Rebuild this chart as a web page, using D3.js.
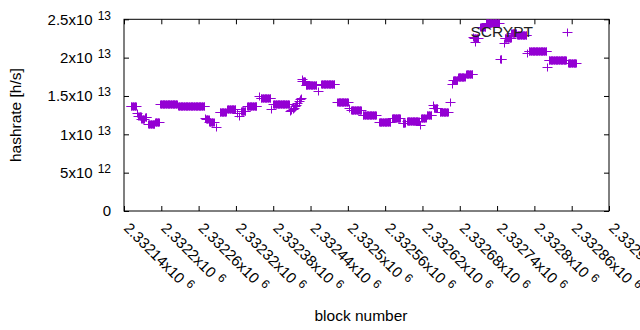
<!DOCTYPE html>
<html>
<head>
<meta charset="utf-8">
<script src="https://cdn.jsdelivr.net/npm/d3@7"></script>
<style>
  body { margin: 0; background: #fff; }
  svg { display: block; font-family: "Liberation Sans", Arial, sans-serif; }
</style>
</head>
<body>
<div id="chart"></div>
<script>
// runs of blocks sharing the same hashrate estimate (rate in 1e12 h/s)
const runStart = [2332151, 2332161, 2332163, 2332168, 2332174, 2332179, 2332190, 2332198, 2332227,
  2332270, 2332272, 2332277, 2332288, 2332294, 2332306, 2332322, 2332325, 2332328, 2332338,
  2332357, 2332360, 2332376, 2332380,
  2332407, 2332409, 2332411, 2332413, 2332415, 2332417, 2332419, 2332421, 2332423, 2332425,
  2332426, 2332427, 2332432, 2332452, 2332457, 2332483, 2332502, 2332505, 2332524, 2332550,
  2332571, 2332588, 2332595, 2332616, 2332618, 2332627, 2332637, 2332638, 2332648, 2332665,
  2332667, 2332669, 2332677, 2332690, 2332701, 2332703, 2332705, 2332713, 2332722, 2332745,
  2332751, 2332752, 2332763, 2332772, 2332788, 2332791, 2332820, 2332823, 2332854];
const runEnd = [2332159, 2332161, 2332167, 2332172, 2332176, 2332189, 2332196, 2332225, 2332269,
  2332270, 2332276, 2332284, 2332288, 2332304, 2332319, 2332322, 2332325, 2332335, 2332353,
  2332357, 2332375, 2332376, 2332405,
  2332407, 2332409, 2332411, 2332413, 2332415, 2332417, 2332419, 2332421, 2332423, 2332425,
  2332426, 2332431, 2332449, 2332452, 2332478, 2332500, 2332502, 2332521, 2332545, 2332568,
  2332584, 2332592, 2332614, 2332616, 2332625, 2332634, 2332637, 2332644, 2332661, 2332665,
  2332667, 2332676, 2332688, 2332700, 2332701, 2332709, 2332705, 2332721, 2332743, 2332747,
  2332751, 2332762, 2332770, 2332787, 2332788, 2332819, 2332820, 2332851, 2332867];
const runRate = [13.69, 12.78, 12.39, 12.00, 12.26, 11.40, 11.62, 13.91, 13.65,
  12.13, 11.99, 11.65, 10.95, 12.95, 13.26, 12.78, 12.43, 13.05, 13.69,
  15.00, 14.70, 13.30, 13.91,
  13.10, 13.17, 13.30, 13.45, 13.69, 13.85, 14.05, 14.35, 14.55, 14.74,
  17.21, 17.00, 16.45, 15.65, 16.52, 14.28, 13.43, 13.17, 12.48, 11.65,
  12.19, 11.48, 11.78, 11.22, 12.09, 12.52, 13.80, 13.45, 12.91, 14.21,
  16.56, 17.08, 17.47, 17.87, 22.69, 22.52, 22.08, 24.03, 24.52, 19.76,
  21.91, 22.52, 23.21, 22.95, 20.60, 20.90, 18.78, 19.65, 19.24];

const xTicks = [2332140, 2332200, 2332260, 2332320, 2332380, 2332440, 2332500,
  2332560, 2332620, 2332680, 2332740, 2332800, 2332860, 2332920];
const xTickLabels = ['2.33214', '2.3322', '2.33226', '2.33232', '2.33238', '2.33244', '2.3325',
  '2.33256', '2.33262', '2.33268', '2.33274', '2.3328', '2.33286', '2.33292'];
const xTickExp = '6';
const yTicks = [0, 5e12, 1e13, 1.5e13, 2e13, 2.5e13];
const yTickLabels = ['0', '5x10', '1x10', '1.5x10', '2x10', '2.5x10'];
const yTickExp = ['', '12', '13', '13', '13', '13'];
const seriesName = 'SCRYPT';

const width = 640, height = 330;
const plotLeft = 124, plotRight = 609, plotTop = 19.3, plotBottom = 211;
const color = '#9400d3';

const points = [];
runStart.forEach((s, i) => {
  for (let b = s; b <= runEnd[i]; b++) points.push({ block: b, rate: runRate[i] * 1e12 });
});

const xScale = d3.scaleLinear().domain([xTicks[0], xTicks[xTicks.length - 1]]).range([plotLeft, plotRight]);
const yScale = d3.scaleLinear().domain([0, 2.5e13]).range([plotBottom, plotTop]);

const svg = d3.select('#chart').append('svg')
  .attr('width', width)
  .attr('height', height);

// inward ticks on all four sides
const axes = [
  [d3.axisBottom(xScale).tickValues(xTicks), `translate(0,${plotBottom})`],
  [d3.axisTop(xScale).tickValues(xTicks), `translate(0,${plotTop})`],
  [d3.axisLeft(yScale).tickValues(yTicks), `translate(${plotLeft},0)`],
  [d3.axisRight(yScale).tickValues(yTicks), `translate(${plotRight},0)`]
];
axes.forEach(([ax, tr]) => {
  const g = svg.append('g').attr('transform', tr)
    .call(ax.tickSizeInner(-5).tickSizeOuter(0).tickFormat(''));
  g.select('.domain').remove();
  g.selectAll('line').attr('stroke', '#000');
});

svg.append('rect')
  .attr('x', plotLeft).attr('y', plotTop)
  .attr('width', plotRight - plotLeft).attr('height', plotBottom - plotTop)
  .attr('fill', 'none').attr('stroke', '#000').attr('stroke-width', 1);

// y tick labels
const yl = svg.append('g').selectAll('text')
  .data(yTicks).enter()
  .append('text')
  .attr('x', plotLeft - 13)
  .attr('y', d => yScale(d))
  .attr('dy', '0.36em')
  .attr('text-anchor', 'end')
  .style('font-size', '15px')
  .text((d, i) => yTickLabels[i]);
yl.append('tspan')
  .attr('dx', 5).attr('dy', -5)
  .style('font-size', '12px')
  .text((d, i) => yTickExp[i]);

// x tick labels, rotated (the last one runs off the edge, as in gnuplot)
const xl = svg.append('g').selectAll('text')
  .data(xTicks).enter()
  .append('text')
  .attr('transform', d => `translate(${xScale(d) - 1},229) rotate(45)`)
  .style('font-size', '15px')
  .text((d, i) => xTickLabels[i] + 'x10');
xl.append('tspan')
  .attr('dx', 5).attr('dy', -5)
  .style('font-size', '12px')
  .text(xTickExp);

svg.append('text')
  .attr('transform', `translate(21,${(plotTop + plotBottom) / 2}) rotate(-90)`)
  .attr('text-anchor', 'middle')
  .style('font-size', '15.5px')
  .text('hashrate [h/s]');

svg.append('text')
  .attr('x', 361).attr('y', 321)
  .attr('text-anchor', 'middle')
  .style('font-size', '15.5px')
  .text('block number');

// crisp 1px "+" marker
const cross = (x, y) => {
  const cx = Math.round(x) + 0.5, cy = Math.round(y) + 0.5;
  return `M${cx - 5},${cy}h10M${cx},${cy - 4}v8`;
};

svg.append('g').selectAll('path')
  .data(points).enter()
  .append('path')
  .attr('d', d => cross(xScale(d.block), yScale(d.rate)))
  .attr('fill', 'none')
  .attr('stroke', color)
  .attr('stroke-width', 1);

// key
svg.append('text')
  .attr('x', plotRight - 76).attr('y', plotTop + 17.5)
  .attr('text-anchor', 'end')
  .style('font-size', '15.5px')
  .style('fill', '#222')
  .text(seriesName);
svg.append('path')
  .attr('d', cross(plotRight - 42, plotTop + 13))
  .attr('fill', 'none')
  .attr('stroke', color)
  .attr('stroke-width', 1);
</script>
</body>
</html>
